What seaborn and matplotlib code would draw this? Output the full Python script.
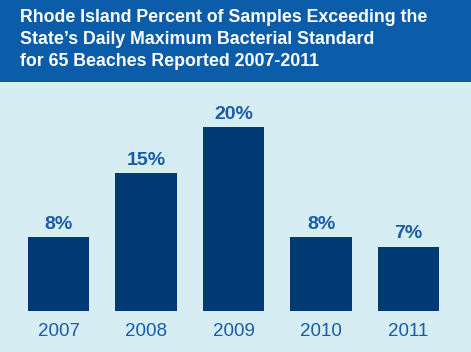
import matplotlib
matplotlib.use("Agg")
import matplotlib.pyplot as plt
import seaborn as sns
import pandas as pd
from matplotlib.patches import Rectangle

years = ["2007", "2008", "2009", "2010", "2011"]
percent = [8, 15, 20, 8, 7]
bar_labels = ["8%", "15%", "20%", "8%", "7%"]
title_lines = [
    "Rhode Island Percent of Samples Exceeding the",
    "State\u2019s Daily Maximum Bacterial Standard",
    "for 65 Beaches Reported 2007-2011",
]

header_blue = "#0b5ca9"
bg_blue = "#d5edf3"
bar_navy = "#003a75"
text_blue = "#1a5ca6"

sns.set_theme(style="white")
plt.rcParams["font.family"] = ["Liberation Sans", "DejaVu Sans"]

W, H = 471, 352
fig = plt.figure(figsize=(W / 100, H / 100), dpi=100)
fig.patch.set_facecolor(bg_blue)

# header band
fig.patches.append(Rectangle((0, 1 - 82 / H), 1, 82 / H, transform=fig.transFigure,
                             facecolor=header_blue, edgecolor="none", zorder=0))
for i, line in enumerate(title_lines):
    fig.text(20 / W, 1 - (17 + i * 22) / H, line, color="white", fontsize=12.8,
             fontweight="bold", va="center", ha="left")

# axes placed in pixel terms: x from 14.75 to 452.25, y bottom 311
ax_left, ax_right = 14.75, 452.25
ax_bottom, ax_top = 311, 81
ax = fig.add_axes([ax_left / W, 1 - ax_bottom / H, (ax_right - ax_left) / W,
                   (ax_bottom - ax_top) / H])
ax.set_facecolor("none")

df = pd.DataFrame({"year": years, "percent": percent})
sns.barplot(data=df, x="year", y="percent", color=bar_navy, saturation=1,
            width=0.7, ax=ax)
for p in ax.patches:
    p.set_edgecolor("none")

ax.set_xlim(-0.5, 4.5)
ax.set_ylim(0, 230 / 9.2)
for i, (v, lab) in enumerate(zip(percent, bar_labels)):
    ax.annotate(lab, (i, v), xytext=(0, 3), textcoords="offset points",
                ha="center", va="bottom", color=text_blue, fontsize=14,
                fontweight="bold")

ax.set_xlabel("")
ax.set_ylabel("")
ax.set_yticks([])
ax.tick_params(axis="x", length=0, pad=9, labelsize=13.5, labelcolor=text_blue)
sns.despine(ax=ax, left=True, bottom=True)

fig.savefig("out.png", dpi=100, facecolor=fig.get_facecolor())
